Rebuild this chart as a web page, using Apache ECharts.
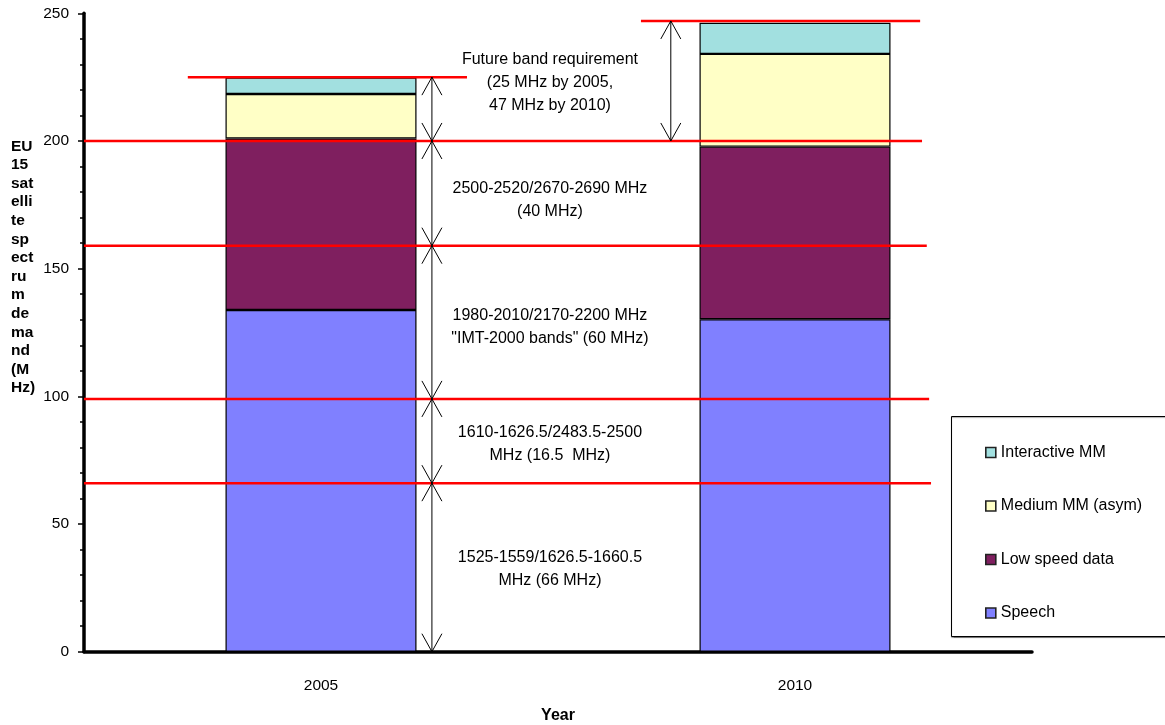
<!DOCTYPE html>
<html>
<head>
<meta charset="utf-8">
<title>EU 15 satellite spectrum demand</title>
<script src="https://cdn.jsdelivr.net/npm/echarts@6/dist/echarts.min.js"></script>
<style>
  html, body { margin: 0; padding: 0; background: #fff; }
  #chart { width: 1165px; height: 725px; }
</style>
</head>
<body>
<div id="chart"></div>
<script>
// ---- data ----
const years = ['2005', '2010'];
const speech = [133.8, 130.2];
const lowSpeedData = [67.2, 67.6];
const mediumMM = [17.4, 36.3];
const interactiveMM = [6.4, 12.2];

// allocated band boundaries (MHz, cumulative) and future requirement tops
const bandEdges = [0, 66, 99, 159, 200];
const futureTop = [225, 247]; // 2005, 2010
const bandNotes = [
  '1525-1559/1626.5-1660.5\nMHz (66 MHz)',
  '1610-1626.5/2483.5-2500\nMHz (16.5  MHz)',
  '1980-2010/2170-2200 MHz\n"IMT-2000 bands" (60 MHz)',
  '2500-2520/2670-2690 MHz\n(40 MHz)'
];
const futureNote = 'Future band requirement\n(25 MHz by 2005,\n47 MHz by 2010)';
const yTicks = [0, 50, 100, 150, 200, 250];

// ---- layout (positions on the hidden helper x axis: category centres at 0 and 1) ----
const FONT = '"Liberation Sans", Arial, sans-serif';
const edgeLineRight = [1.287, 1.283, 1.278, 1.268];
const futureLineSpan = [[-0.281, 0.308], [0.675, 1.264]];
const arrowX2005 = 0.234;
const arrowX2010 = 0.738;
const noteX = 0.483;
const noteShiftPx = [2, 3, 5, 7, 2]; // small downward nudges of each note block

// red boundary lines: [x0, x1, y]
const redLines = [];
bandEdges.slice(1).forEach((v, i) => redLines.push([-0.5, edgeLineRight[i], v]));
futureTop.forEach((v, i) => redLines.push([futureLineSpan[i][0], futureLineSpan[i][1], v]));

// double-headed arrows: [x, yFrom, yTo]
const arrows = [];
for (let i = 0; i < bandEdges.length - 1; i++) arrows.push([arrowX2005, bandEdges[i], bandEdges[i + 1]]);
arrows.push([arrowX2005, bandEdges[bandEdges.length - 1], futureTop[0]]);
arrows.push([arrowX2010, bandEdges[bandEdges.length - 1], futureTop[1]]);

// notes: [x, yCentre, text]
const notes = [];
for (let i = 0; i < bandNotes.length; i++) notes.push([noteX, (bandEdges[i] + bandEdges[i + 1]) / 2, bandNotes[i]]);
notes.push([noteX, (bandEdges[bandEdges.length - 1] + futureTop[1]) / 2, futureNote]);

const colors = {
  speech: '#8080FF',
  low: '#7F1F5F',
  medium: '#FFFFC6',
  interactive: '#A2E0E0'
};

function barSeries(name, data, color) {
  return {
    name, type: 'bar', stack: 'total', data,
    barWidth: 191,
    xAxisIndex: 0, yAxisIndex: 0,
    itemStyle: { color, borderColor: '#000', borderWidth: 1.2 },
    z: 2
  };
}

const chart = echarts.init(document.getElementById('chart'), null, { renderer: 'canvas' });

chart.setOption({
  animation: false,
  backgroundColor: '#fff',
  textStyle: { fontFamily: FONT },
  grid: { left: 84, right: 133, top: 13.3, bottom: 73.3, containLabel: false, outerBoundsMode: 'none' },
  xAxis: [
    {
      type: 'category',
      data: years,
      name: 'Year',
      nameLocation: 'middle',
      nameGap: 56,
      nameTextStyle: { fontFamily: FONT, fontSize: 16, fontWeight: 'bold', color: '#000' },
      axisLine: { onZero: false, lineStyle: { color: '#000', width: 3.5 } },
      axisTick: { show: false },
      axisLabel: { fontFamily: FONT, fontSize: 15.5, color: '#000', margin: 26 },
      splitLine: { show: false }
    },
    {
      type: 'value', min: -0.5, max: 1.5, show: false
    }
  ],
  yAxis: {
    type: 'value',
    min: yTicks[0],
    max: yTicks[yTicks.length - 1],
    interval: 50,
    axisLine: { show: true, onZero: false, lineStyle: { color: '#000', width: 3.5 } },
    axisTick: { show: true, length: 6, lineStyle: { color: '#000', width: 1.5 } },
    minorTick: { show: true, splitNumber: 5, length: 4, lineStyle: { color: '#000', width: 1.5 } },
    axisLabel: { fontFamily: FONT, fontSize: 15.5, color: '#000', margin: 15, padding: [4, 0, 0, 0] },
    splitLine: { show: false }
  },
  legend: {
    data: ['Interactive MM', 'Medium MM (asym)', 'Low speed data', 'Speech'],
    orient: 'vertical',
    left: 980,
    top: 439.5,
    itemWidth: 10,
    itemHeight: 10,
    itemGap: 37.5,
    icon: 'rect',
    itemStyle: { borderColor: '#222', borderWidth: 1.6 },
    textStyle: { fontFamily: FONT, fontSize: 16, color: '#000', lineHeight: 16 },
    selectedMode: false,
    z: 5
  },
  graphic: [
    {
      type: 'rect',
      z: 1,
      shape: { x: 951.5, y: 416.5, width: 260, height: 220 },
      style: { fill: '#fff', stroke: '#000', lineWidth: 1, shadowColor: 'rgba(0,0,0,0.35)', shadowOffsetY: 1, shadowBlur: 1 }
    },
    {
      type: 'text',
      z: 5,
      left: 11,
      top: 137,
      style: {
        text: ['EU', '15', 'sat', 'elli', 'te', 'sp', 'ect', 'ru', 'm', 'de', 'ma', 'nd', '(M', 'Hz)'].join('\n'),
        font: 'bold 15.5px ' + FONT,
        lineHeight: 18.6,
        fill: '#000',
        align: 'left'
      }
    }
  ],
  series: [
    barSeries('Speech', speech, colors.speech),
    barSeries('Low speed data', lowSpeedData, colors.low),
    barSeries('Medium MM (asym)', mediumMM, colors.medium),
    barSeries('Interactive MM', interactiveMM, colors.interactive),
    {
      name: 'bandLines',
      type: 'custom',
      xAxisIndex: 1, yAxisIndex: 0,
      data: redLines,
      z: 6,
      silent: true,
      renderItem(params, api) {
        const a = api.coord([api.value(0), api.value(2)]);
        const b = api.coord([api.value(1), api.value(2)]);
        return {
          type: 'line',
          shape: { x1: a[0], y1: a[1], x2: b[0], y2: b[1] },
          style: { stroke: '#FF0000', lineWidth: 2.5 }
        };
      }
    },
    {
      name: 'bandArrows',
      type: 'custom',
      xAxisIndex: 1, yAxisIndex: 0,
      data: arrows,
      z: 7,
      silent: true,
      renderItem(params, api) {
        const bot = api.coord([api.value(0), api.value(1)]);
        const top = api.coord([api.value(0), api.value(2)]);
        const x = bot[0];
        const hw = 10, hl = 18;
        const st = { stroke: '#000', lineWidth: 1, fill: null };
        return {
          type: 'group',
          children: [
            { type: 'line', shape: { x1: x, y1: top[1], x2: x, y2: bot[1] }, style: st },
            { type: 'polyline', shape: { points: [[x - hw, top[1] + hl], [x, top[1]], [x + hw, top[1] + hl]] }, style: st },
            { type: 'polyline', shape: { points: [[x - hw, bot[1] - hl], [x, bot[1]], [x + hw, bot[1] - hl]] }, style: st }
          ]
        };
      }
    },
    {
      name: 'bandNotes',
      type: 'custom',
      xAxisIndex: 1, yAxisIndex: 0,
      data: notes,
      z: 7,
      silent: true,
      renderItem(params, api) {
        const p = api.coord([api.value(0), api.value(1)]);
        return {
          type: 'text',
          x: p[0], y: p[1] + noteShiftPx[params.dataIndex],
          style: {
            text: notes[params.dataIndex][2],
            font: '16px ' + FONT,
            lineHeight: 23,
            fill: '#000',
            align: 'center',
            verticalAlign: 'middle'
          }
        };
      }
    }
  ]
});
</script>
</body>
</html>
